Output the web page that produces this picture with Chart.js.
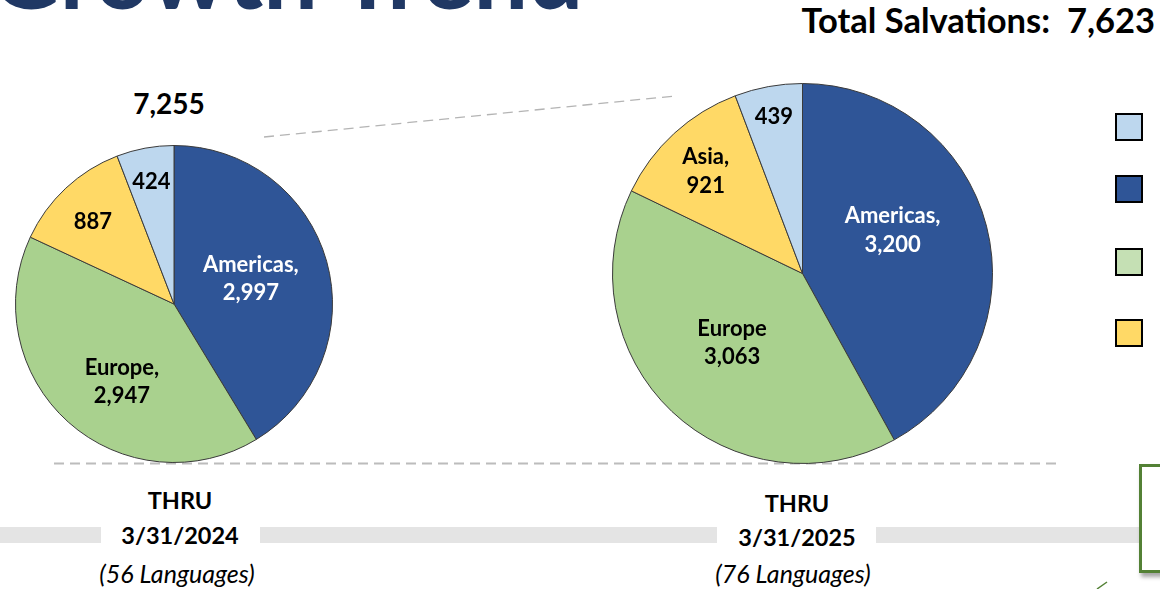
<!DOCTYPE html>
<html>
<head>
<meta charset="utf-8">
<script src="https://cdn.jsdelivr.net/npm/chart.js@4"></script>
<style>
  html, body { margin: 0; padding: 0; background: #fff; }
  body { width: 1160px; height: 589px; position: relative; overflow: hidden; font-family: Lato, "Open Sans", sans-serif; }
  .abs { position: absolute; }
  .txt { position: absolute; white-space: nowrap; font-weight: 700; color: #000; transform: translate(-50%, -50%); }
  #title { left: -10px; top: -77px; font-size: 97px; font-weight: 700; color: #203864; white-space: nowrap; line-height: 1; }
  #total { right: 5px; top: 3px; font-size: 34.5px; font-weight: 700; line-height: 1; }
  .bar { position: absolute; top: 527px; height: 16px; background: #e4e4e4; }
  .sq { position: absolute; left: 1115px; width: 24px; height: 24px; border: 2px solid #000; }
  #box { left: 1139px; top: 464px; width: 40px; height: 103px; border: 3px solid #538135; box-shadow: 2px 4px 4px rgba(0,0,0,0.35); background: #fff; }
</style>
</head>
<body>
<div id="title" class="abs">Growth Trend</div>
<div id="total" class="abs">Total Salvations:&nbsp; 7,623</div>

<svg class="abs" style="left:0;top:0" width="1160" height="589">
  <line x1="264" y1="137" x2="675" y2="96" stroke="#b4b4b4" stroke-width="1.3" stroke-dasharray="10,6"/>
  <line x1="54" y1="463.5" x2="1062" y2="463.5" stroke="#bcbcbc" stroke-width="2" stroke-dasharray="10,6"/>
  <line x1="1097" y1="589" x2="1107" y2="582" stroke="#538135" stroke-width="1.5"/>
</svg>

<div class="bar" style="left:0;width:101px"></div>
<div class="bar" style="left:260px;width:457px"></div>
<div class="bar" style="left:876px;width:263px"></div>
<div id="box" class="abs"></div>

<div class="abs" style="left:15px;top:145px"><canvas id="pie2024" width="318" height="318"></canvas></div>
<div class="abs" style="left:612px;top:83px"><canvas id="pie2025" width="381" height="381"></canvas></div>

<div class="txt" style="left:169px;top:103px;font-size:28px">7,255</div>

<div class="txt" style="left:180px;top:500px;font-size:23.5px">THRU</div>
<div class="txt" style="left:180px;top:535px;font-size:23.5px">3/31/2024</div>
<div class="txt" style="left:177px;top:573px;font-size:25px;font-weight:400;font-style:italic">(56 Languages)</div>

<div class="txt" style="left:797px;top:503px;font-size:23.5px">THRU</div>
<div class="txt" style="left:797px;top:537px;font-size:23.5px">3/31/2025</div>
<div class="txt" style="left:793px;top:573px;font-size:25px;font-weight:400;font-style:italic">(76 Languages)</div>

<div class="sq" style="top:113px;background:#bdd7ee"></div>
<div class="sq" style="top:175px;background:#2f5597"></div>
<div class="sq" style="top:248px;background:#c5e0b4"></div>
<div class="sq" style="top:319px;background:#ffd966"></div>

<script>
// regions, clockwise from 12 o'clock
const regions = ["Americas", "Europe", "Asia", "Other"];
const values2024 = [2997, 2947, 887, 424];
const values2025 = [3200, 3063, 921, 439];
const names2024 = ["Americas,", "Europe,", "", ""];
const names2025 = ["Americas,", "Europe", "Asia,", ""];

const colores = ["#2f5597", "#a9d18e", "#ffd966", "#bdd7ee"];
const textColor = ["#ffffff", "#000000", "#000000", "#000000"];

// [fraction of radius, angle shift in degrees] for each label
const pos2024 = [[0.51, -2.5], [0.59, -8], [0.73, -1.5], [0.785, 0]];
const pos2025 = [[0.525, -11], [0.52, 2], [0.74, -1], [0.84, 0]];

const sliceLabels = {
  id: "sliceLabels",
  afterDatasetsDraw(chart, args, opts) {
    const ctx = chart.ctx;
    const meta = chart.getDatasetMeta(0);
    const vals = chart.data.datasets[0].data;
    ctx.save();
    ctx.font = "700 22px Lato, sans-serif";
    ctx.textAlign = "center";
    ctx.textBaseline = "middle";
    meta.data.forEach((arc, i) => {
      const p = opts.pos[i];
      const mid = (arc.startAngle + arc.endAngle) / 2 + p[1] * Math.PI / 180;
      const r = arc.outerRadius * p[0];
      const x = arc.x + Math.cos(mid) * r;
      const y = arc.y + Math.sin(mid) * r;
      const lines = [];
      if (opts.names[i]) lines.push(opts.names[i]);
      lines.push(vals[i].toLocaleString("en-US"));
      ctx.fillStyle = textColor[i];
      const lh = 28.5;
      lines.forEach((t, k) => {
        ctx.fillText(t, x, y + (k - (lines.length - 1) / 2) * lh);
      });
    });
    ctx.restore();
  },
};

const makePie = (id, values, names, pos) => {
  return new Chart(id, {
    type: "pie",
    data: {
      labels: regions,
      datasets: [{
        data: values,
        backgroundColor: colores,
        borderColor: "#3a3a3a",
        borderWidth: 1,
      }],
    },
    options: {
      responsive: false,
      animation: false,
      layout: { padding: 0 },
      plugins: {
        legend: { display: false },
        tooltip: { enabled: false },
        sliceLabels: { names: names, pos: pos },
      },
    },
    plugins: [sliceLabels],
  });
};

makePie("pie2024", values2024, names2024, pos2024);
makePie("pie2025", values2025, names2025, pos2025);
</script>
</body>
</html>
